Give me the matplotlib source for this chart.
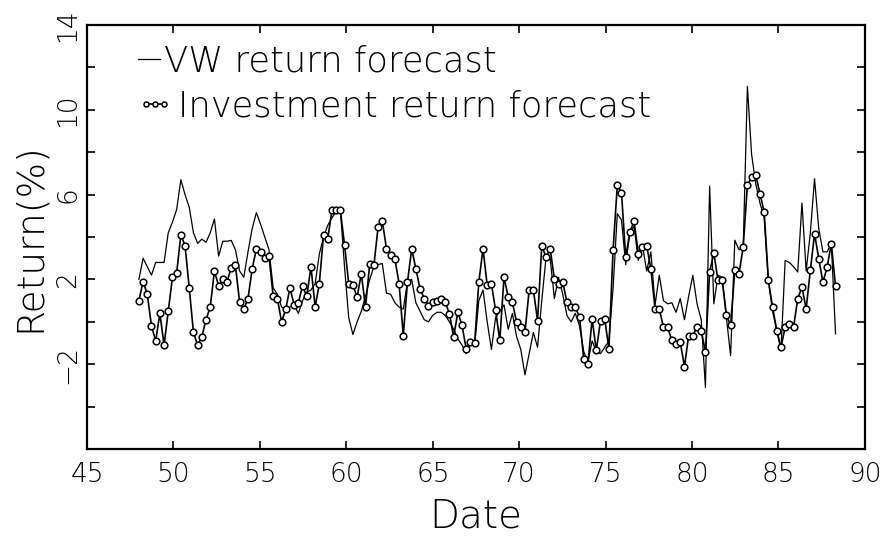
import numpy as np
import matplotlib
matplotlib.use('Agg')
import matplotlib.pyplot as plt

# quarterly forecasts, first and last date
first_date, last_date = 48.0, 88.3

invest = [
    1.0, 1.9, 1.3, -0.2, -0.9, 0.4, -1.1, 0.5, 2.1, 2.3,
    4.1, 3.6, 1.6, -0.5, -1.1, -0.7, 0.1, 0.7, 2.4, 1.7,
    2.0, 1.9, 2.55, 2.66, 0.93, 0.6, 1.1, 2.5, 3.45, 3.3,
    3.0, 3.1, 1.2, 1.1, 0.0, 0.6, 1.6, 0.8, 0.9, 1.7,
    1.2, 2.6, 0.7, 1.8, 4.1, 3.9, 5.26, 5.26, 5.26, 3.64,
    1.8, 1.72, 1.17, 2.27, 0.69, 2.74, 2.66, 4.47, 4.75, 3.45,
    3.13, 2.98, 1.8, -0.65, 1.87, 3.45, 2.5, 1.56, 1.09, 0.77,
    0.93, 1.0, 1.09, 0.93, 0.38, -0.72, 0.46, -0.17, -1.28, -0.96,
    -1.0, 1.87, 3.45, 1.72, 1.8, 0.54, -0.88, 2.11, 1.17, 0.93,
    -0.02, -0.25, -0.49, 1.5, 1.5, 0.06, 3.6, 3.05, 3.45, 2.03,
    1.8, 1.87, 0.93, 0.69, 0.69, 0.22, -1.75, -1.98, 0.14, -1.35,
    0.06, 0.14, -1.28, 3.4, 6.44, 6.09, 3.05, 4.24, 4.74, 3.21,
    3.53, 3.6, 2.5, 0.61, 0.61, -0.25, -0.25, -0.88, -1.04, -0.96,
    -2.11, -0.65, -0.65, -0.25, -0.41, -1.43, 2.35, 3.24, 1.95, 1.95,
    0.3, -0.17, 2.43, 2.27, 3.53, 6.44, 6.83, 6.91, 6.05, 5.18,
    1.95, 0.69, -0.41, -1.2, -0.25, -0.09, -0.25, 1.09, 1.64, 0.61,
    2.43, 4.16, 2.98, 1.87, 2.58, 3.69, 1.67,
]

vw = [
    2.0, 3.0, 2.6, 2.2, 2.8, 2.8, 2.8, 4.2, 4.7, 5.3,
    6.7, 6.0, 5.4, 4.2, 3.7, 3.9, 3.75, 4.2, 4.85, 3.1,
    3.8, 3.8, 3.84, 3.4, 2.4, 2.1, 3.3, 4.4, 5.15, 4.6,
    4.0, 3.4, 1.6, 1.3, 0.7, 0.6, 0.7, 0.8, 0.4, 1.0,
    1.4, 1.5, 1.8, 3.2, 4.0, 4.55, 4.9, 5.2, 5.3, 2.6,
    0.2, -0.6, 0.0, 0.5, 1.2, 2.0, 2.6, 2.7, 2.75, 1.35,
    1.3, 0.9, 0.7, 0.6, 1.9, 2.0, 0.9, 0.5, 0.1, 0.0,
    0.3, 0.45, 0.45, 0.3, 0.0, -0.35, -0.8, -1.1, -1.5, -1.0,
    -1.15, 1.0, 1.5, 0.0, -1.3, 0.2, 0.5, 0.8, -0.35, 0.4,
    -0.7, -1.3, -2.5, -1.5, -0.5, -1.2, 1.0, 3.0, 3.0, 1.1,
    2.1, 1.3, 0.3, 0.0, 0.4, -0.2, -1.4, -1.9, -0.9, -1.4,
    -1.5, -1.2, -0.9, 1.6, 5.1, 4.8, 2.7, 4.2, 4.5, 2.9,
    3.6, 2.4, 3.3, 0.8, 2.2, 1.0, 0.85, 0.9, 0.45, 1.1,
    0.1, 1.2, 2.2, 0.85, 0.1, -3.1, 6.4, 0.85, 2.2, 2.1,
    0.2, -1.6, 3.85, 3.4, 3.5, 11.1, 7.9, 6.5, 5.6, 4.9,
    1.95, 0.5, -0.4, -1.35, 2.9, 2.8, 2.6, 2.35, 5.6, 2.4,
    4.2, 6.75, 4.4, 3.3, 3.3, 3.7, -0.57,
]

dates = np.linspace(first_date, last_date, len(invest))

x_ticks = [45, 50, 55, 60, 65, 70, 75, 80, 85, 90]
y_ticks = [-6, -4, -2, 0, 2, 4, 6, 8, 10, 12, 14]
y_labelled = [-2, 2, 6, 10, 14]

plt.rcParams['font.family'] = ['DejaVu Sans']
plt.rcParams['font.weight'] = 'light'
plt.rcParams['axes.labelweight'] = 'light'

fig = plt.figure(figsize=(8.88, 5.43), dpi=100)
ax = fig.add_axes([0.098, 0.173, 0.876, 0.781])

vw_line, = ax.plot(dates, vw, color='black', linewidth=0.9,
                   label='VW return forecast')
inv_line, = ax.plot(dates, invest, color='black', linewidth=1.2,
                    marker='o', markersize=4.8, markerfacecolor='white',
                    markeredgecolor='black', markeredgewidth=1.1,
                    label='Investment return forecast')

ax.set_xlim(45, 90)
ax.set_ylim(-6, 14)
ax.set_xticks(x_ticks)
ax.set_yticks(y_ticks)
ax.set_yticklabels([str(v).replace('-', '\u2212') if v in y_labelled else ''
                    for v in y_ticks])
ax.tick_params(direction='in', top=True, right=True, length=6, width=1.2,
               labelsize=19)
ax.tick_params(axis='x', pad=9)
ax.tick_params(axis='y', pad=5)
plt.setp(ax.get_yticklabels(), rotation=90, va='center')
for s in ax.spines.values():
    s.set_linewidth(1.6)

ax.set_xlabel('Date', fontsize=28, labelpad=8)
ax.set_ylabel('Return(%)', fontsize=27, labelpad=6)

# two one-line legends so the short VW dash sits right against its text
leg_vw = ax.legend(handles=[vw_line], loc='center left',
                   bbox_to_anchor=(0.066, 0.913), borderaxespad=0,
                   borderpad=0, frameon=False, fontsize=25.5,
                   handlelength=0.6, handletextpad=0.12)
ax.add_artist(leg_vw)
ax.legend(handles=[inv_line], loc='center left',
          bbox_to_anchor=(0.062, 0.807), borderaxespad=0, borderpad=0,
          frameon=False, fontsize=25.5, handlelength=1.1,
          handletextpad=0.12, numpoints=3, markerscale=0.75)

fig.savefig('out.png', dpi=100, facecolor='white')
